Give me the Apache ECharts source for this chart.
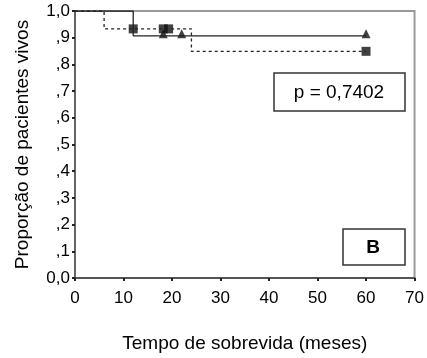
<!DOCTYPE html>
<html><head><meta charset="utf-8">
<script src="https://cdn.jsdelivr.net/npm/echarts@6/dist/echarts.min.js"></script>
<style>html,body{margin:0;padding:0;background:#fff}#c{width:427px;height:358px}</style>
</head><body><div id="c"></div>
<script>
// Kaplan-Meier step paths (time in months, proportion alive)
const solidTimes = [0, 12, 12, 60];
const solidValues = [1.0, 1.0, 0.907, 0.907];
const dashedTimes = [0, 6, 6, 24, 24, 60];
const dashedValues = [1.0, 1.0, 0.933, 0.933, 0.849, 0.849];
// censored markers
const triTimes = [18.2, 22, 60];
const triValues = [0.907, 0.907, 0.907];
const sqTimes = [12, 18.2, 19.3, 60];
const sqValues = [0.933, 0.933, 0.933, 0.849];
const xTicks = [0, 10, 20, 30, 40, 50, 60, 70];
const yTickLabels = ['0,0', ',1', ',2', ',3', ',4', ',5', ',6', ',7', ',8', ',9', '1,0'];
const pText = 'p = 0,7402';
const panelText = 'B';

const zip = (a, b) => a.map((v, i) => [v, b[i]]);
const chart = echarts.init(document.getElementById('c'));
const font = 'Liberation Sans, Arial, sans-serif';
chart.setOption({
  animation: false,
  grid: { left: 75, right: 11, top: 11, bottom: 77, show: true, borderColor: '#9a9a9a', borderWidth: 2 },
  xAxis: {
    type: 'value', min: 0, max: 70, interval: 10,
    name: 'Tempo de sobrevida (meses)', nameLocation: 'middle', nameGap: 56,
    nameTextStyle: { fontFamily: font, fontSize: 19, color: '#000' },
    axisLine: { lineStyle: { color: '#555', width: 2 } },
    axisTick: { show: true, length: 3, lineStyle: { color: '#222', width: 2 } },
    axisLabel: { fontFamily: font, fontSize: 17, color: '#000', margin: 12,
      formatter: v => String(xTicks[Math.round(v / 10)]) },
    splitLine: { show: false }
  },
  yAxis: {
    type: 'value', min: 0, max: 1, interval: 0.1,
    name: 'Proporção de pacientes vivos', nameLocation: 'middle', nameGap: 43,
    nameTextStyle: { fontFamily: font, fontSize: 19, color: '#000' },
    axisLine: { show: true, lineStyle: { color: '#666', width: 2 } },
    axisTick: { show: true, length: 3, lineStyle: { color: '#222', width: 2 } },
    axisLabel: { fontFamily: font, fontSize: 17, color: '#000', margin: 5,
      formatter: v => yTickLabels[Math.round(v * 10)] },
    splitLine: { show: false }
  },
  graphic: [
    { type: 'rect', shape: { x: 274, y: 73, width: 131, height: 38 },
      style: { fill: '#fff', stroke: '#333', lineWidth: 1.5 } },
    { type: 'text', x: 339, y: 92.5, style: { text: pText, fontFamily: font, fontSize: 19, fill: '#000', align: 'center', verticalAlign: 'middle' } },
    { type: 'rect', shape: { x: 343, y: 229, width: 62, height: 36 },
      style: { fill: '#fff', stroke: '#333', lineWidth: 1.5 } },
    { type: 'text', x: 373, y: 248, style: { text: panelText, fontFamily: font, fontSize: 19, fontWeight: 'bold', fill: '#000', align: 'center', verticalAlign: 'middle' } }
  ],
  series: [
    { type: 'line', data: zip(solidTimes, solidValues), symbol: 'none',
      lineStyle: { color: '#222', width: 1.3 } },
    { type: 'line', data: zip(dashedTimes, dashedValues), symbol: 'none',
      lineStyle: { color: '#222', width: 1.3, type: [3, 3] } },
    { type: 'scatter', data: zip(triTimes, triValues), symbol: 'triangle', symbolSize: 9, symbolOffset: [0, -2],
      itemStyle: { color: '#111' } },
    { type: 'scatter', data: zip(sqTimes, sqValues), symbol: 'rect', symbolSize: 9,
      itemStyle: { color: '#111' } }
  ]
});
</script></body></html>
